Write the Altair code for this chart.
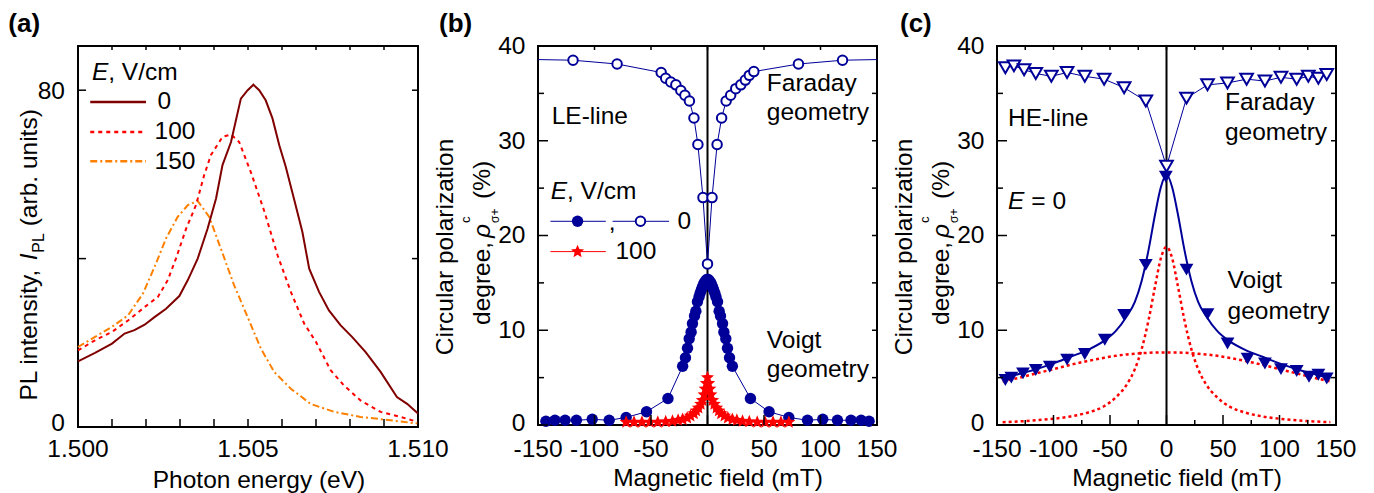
import altair as alt
import pandas as pd

FONT = "Liberation Sans"
FS = 24.5
NAVY = "#000099"
DARKRED = "#800000"
RED = "#ff0000"
ORANGE = "#ff8000"
STAR = ("M0,-1L0.2645,-0.364L0.951,-0.309L0.428,0.139L0.588,0.809L0,0.45L-0.588,0.809"
        "L-0.428,0.139L-0.951,-0.309L-0.2645,-0.364Z")

# ---------------- panel (a): PL spectra ----------------
a_x0 = [1.5000, 1.5005, 1.5010, 1.50137, 1.50166, 1.50196, 1.50225, 1.50259, 1.50298, 1.50323,
        1.50352, 1.50381, 1.50406, 1.50425, 1.50450, 1.50479, 1.50499, 1.50516, 1.50533, 1.50552,
        1.50572, 1.50592, 1.50611, 1.50635, 1.50660, 1.50680, 1.50709, 1.50738, 1.50772, 1.50806,
        1.50846, 1.50890, 1.50938, 1.50968, 1.51000]
a_y0 = [15.6, 17.6, 19.8, 22.2, 23.0, 24.3, 26.1, 28.1, 31.1, 34.9,
        40.0, 47.1, 54.3, 62.2, 67.7, 78.0, 80.0, 81.3, 80.0, 77.6,
        73.3, 66.9, 61.8, 54.3, 46.3, 37.6, 32.1, 27.7, 24.2, 21.4,
        17.8, 13.1, 7.1, 5.5, 3.2]
a_x100 = [1.5000, 1.5005, 1.5010, 1.50147, 1.50196, 1.50235, 1.50264, 1.50288, 1.50318, 1.50347,
          1.50371, 1.50391, 1.50425, 1.50450, 1.50474, 1.50508, 1.50547, 1.50587, 1.50626, 1.50665,
          1.50700, 1.50743, 1.50782, 1.50831, 1.50890, 1.50948, 1.51000]
a_y100 = [18.2, 20.6, 22.6, 25.3, 28.5, 30.9, 34.9, 40.0, 47.1, 52.7,
          59.8, 64.6, 68.9, 69.5, 67.7, 60.6, 51.5, 40.8, 32.1, 24.6,
          20.2, 13.5, 9.9, 6.3, 3.6, 2.4, 1.2]
a_x150 = [1.5000, 1.5005, 1.5010, 1.50147, 1.50191, 1.50225, 1.50259, 1.50293, 1.50323, 1.50352,
          1.50386, 1.50420, 1.50459, 1.50499, 1.50538, 1.50577, 1.50626, 1.50684, 1.50753, 1.50831,
          1.50919, 1.51000]
a_y150 = [19.0, 21.4, 23.8, 26.5, 31.7, 38.0, 44.8, 49.9, 52.7, 53.7,
          49.9, 42.4, 33.7, 26.1, 18.6, 13.1, 9.1, 5.5, 3.6, 2.4,
          1.6, 0.8]
a_xtick_vals = [1.500, 1.501, 1.502, 1.503, 1.504, 1.505, 1.506, 1.507, 1.508, 1.509, 1.510]
a_xlabel_vals = [1.500, 1.505, 1.510]
a_xlabel_text = ["1.500", "1.505", "1.510"]
a_ytick_vals = [0, 40, 80]
a_ylabel_vals = [80]
a_ylabel_text = ["80"]

# ---------------- panel (b): LE-line ----------------
b_far_B = [-165, -119, -80, -41, -37, -32.5, -28, -23.6, -20, -16, -12, -8.5, -4,
           0, 4, 8.5, 12.5, 16.5, 20.5, 25, 29.5, 33.5, 37, 41, 80.5, 119.5, 165]
b_far_v = [38.6, 38.5, 38.1, 37.2, 36.6, 36.2, 35.9, 35.3, 34.8, 34.2, 32.4, 29.6, 24.0,
           17.0, 24.0, 29.6, 32.4, 34.2, 34.8, 35.5, 35.9, 36.4, 36.9, 37.3, 38.1, 38.5, 38.6]
b_voi_B = [-143, -135, -126, -116, -102, -87, -72, -54, -35, -22,
           -19.5, -17.7, -16.2, -14.5, -13.3, -11.5, -10.3, -8.9, -7.5, -6.5,
           -5.3, -4.4, -3.3, -2.4, -1.2, 0, 1.2, 2.4, 3.3, 4.4, 5.3,
           6.5, 7.5, 8.9, 10.3, 11.5, 13.3, 14.5, 16.2, 17.7, 19.5,
           22, 38, 54.5, 72, 88.5, 102, 115, 127, 136, 143]
b_voi_v = [0.4, 0.5, 0.5, 0.5, 0.6, 0.5, 0.8, 1.4, 2.8, 6.2,
           7.1, 8.1, 9.1, 9.8, 10.7, 11.5, 12.0, 13.0, 13.5, 13.9,
           14.3, 14.6, 14.9, 15.1, 15.3, 15.4, 15.3, 15.1, 14.9, 14.6, 14.3,
           13.9, 13.5, 13.0, 12.0, 11.5, 10.7, 9.8, 9.1, 8.1, 7.1,
           6.2, 2.8, 1.4, 0.8, 0.5, 0.6, 0.5, 0.5, 0.5, 0.4]
b_e100_B = [-72, -65, -58, -51, -44, -37, -31, -26, -22, -18, -15, -12, -10, -8, -6, -4.5, -3, -2, -1,
            0, 1, 2, 3, 4.5, 6, 8, 10, 12, 15, 18, 22, 26, 31, 37, 44, 51, 58, 65, 72]
b_e100_v = [0.3, 0.3, 0.3, 0.3, 0.3, 0.35, 0.4, 0.5, 0.6, 0.75, 0.95, 1.2, 1.5, 1.8, 2.2, 2.6, 3.2, 3.8, 4.4,
            5.0, 4.4, 3.8, 3.2, 2.6, 2.2, 1.8, 1.5, 1.2, 0.95, 0.75, 0.6, 0.5, 0.4, 0.35, 0.3, 0.3, 0.3, 0.3, 0.3]

# ---------------- panel (c): HE-line ----------------
c_far_B = [-142.6, -135, -126, -115.7, -101.9, -88, -72.3, -55.2, -37.5, -18.3, 0,
           17.7, 36.3, 54, 70.9, 87.1, 101.3, 115.2, 125.5, 134.4, 141.8]
c_far_v = [37.7, 37.9, 37.5, 37.1, 36.8, 37.2, 36.8, 36.5, 35.6, 34.2, 27.3,
           34.5, 35.9, 36.1, 36.5, 36.3, 36.7, 36.5, 36.8, 36.6, 37.0]
c_voi_B = [-142.6, -137.3, -127, -115.7, -103.3, -88, -72.3, -54.6, -37.5, -18.3, -0.6,
           17.7, 36.3, 54, 71.7, 87.1, 101.3, 115.2, 126.1, 134.4, 141.8]
c_voi_v = [4.75, 5.0, 5.45, 5.8, 6.15, 6.9, 7.5, 9.0, 11.6, 16.9, 26.2,
           16.4, 11.7, 8.6, 7.0, 6.5, 5.9, 5.7, 5.1, 5.3, 4.9]
c_fit_B = [-145, -130, -115, -100, -85, -70, -55, -45, -35, -28, -22, -16, -10, -5, 0,
           5, 10, 16, 22, 28, 35, 45, 55, 70, 85, 100, 115, 130, 145]
c_fit_v = [4.9, 5.4, 5.9, 6.5, 7.2, 7.9, 8.9, 9.9, 11.5, 13.0, 15.2, 18.4, 22.3, 25.1, 26.4,
           25.1, 22.3, 18.4, 15.2, 13.0, 11.5, 9.9, 8.9, 7.9, 7.2, 6.5, 5.9, 5.4, 4.9]
c_narrow_v = [0.3, 0.38, 0.5, 0.66, 0.9, 1.3, 2.0, 2.9, 4.3, 5.9, 8.0, 11.0, 14.7, 17.6, 18.8,
              17.6, 14.7, 11.0, 8.0, 5.9, 4.3, 2.9, 2.0, 1.3, 0.9, 0.66, 0.5, 0.38, 0.3]
c_broad_v = [4.6, 5.0, 5.45, 5.9, 6.35, 6.75, 7.1, 7.3, 7.45, 7.52, 7.58, 7.62, 7.65, 7.66, 7.66,
             7.66, 7.65, 7.62, 7.58, 7.52, 7.45, 7.3, 7.1, 6.75, 6.35, 5.9, 5.45, 5.0, 4.6]

bc_xmajor_vals = [-150, -100, -50, 0, 50, 100, 150]
bc_xlabel_text = ["-150", "-100", "-50", "0", "50", "100", "150"]
c_xminor_vals = [-125, -75, -25, 25, 75, 125]
bc_ymajor_vals = [0, 10, 20, 30, 40]
bc_ylabel_vals = [10, 20, 30, 40]
bc_ylabel_text = ["10", "20", "30", "40"]
bc_yminor_vals = [5, 15, 25, 35]
bc_yall_vals = [0, 5, 10, 15, 20, 25, 30, 35, 40]
zero_label_val = [0]
zero_label_text = ["0"]

W_A, H_A = 340, 381
W_B, H_B = 339, 379
W_C, H_C = 339, 379

xs_a = alt.Scale(domain=[1.500, 1.510], nice=False, zero=False)
ys_a = alt.Scale(domain=[0, 90.5], nice=False, zero=False)
xs_b = alt.Scale(domain=[-150, 150], nice=False, zero=False)
ys_b = alt.Scale(domain=[0, 40], nice=False, zero=False)


def df2(x, y):
    return pd.DataFrame({"x": x, "y": y})


def xy(xs, ys):
    return dict(x=alt.X("x:Q", scale=xs, axis=None), y=alt.Y("y:Q", scale=ys, axis=None))


def dtext(x, y, s, xs, ys, size=FS, style="normal", align="left"):
    return alt.Chart(pd.DataFrame({"x": [x], "y": [y], "t": [s]})).mark_text(
        font=FONT, fontSize=size, fontStyle=style, align=align, baseline="alphabetic", color="black"
    ).encode(x=alt.X("x:Q", scale=xs, axis=None), y=alt.Y("y:Q", scale=ys, axis=None), text="t:N")


def ptext(px, py, s, size=FS, style="normal", weight="normal", angle=0, align="left"):
    return alt.Chart(pd.DataFrame({"t": [s]})).mark_text(
        font=FONT, fontSize=size, fontStyle=style, fontWeight=weight, angle=angle, align=align,
        baseline="alphabetic", color="black"
    ).encode(x=alt.value(px), y=alt.value(py), text="t:N")


def xlabels(vals, texts, xs, H, off):
    return alt.Chart(pd.DataFrame({"v": vals, "t": texts})).mark_text(
        font=FONT, fontSize=FS, align="center", baseline="alphabetic", color="black"
    ).encode(x=alt.X("v:Q", scale=xs, axis=None), y=alt.value(H + off), text="t:N")


def ylabels(vals, texts, ys, off, dy=8.3):
    return alt.Chart(pd.DataFrame({"v": vals, "t": texts})).mark_text(
        font=FONT, fontSize=FS, align="right", baseline="alphabetic", color="black", dy=dy
    ).encode(y=alt.Y("v:Q", scale=ys, axis=None), x=alt.value(off), text="t:N")


def xticks(vals, xs, H, length, top=False):
    y0, y1 = (0, length) if top else (H, H - length)
    return alt.Chart(pd.DataFrame({"v": vals})).mark_rule(color="black", strokeWidth=1.5).encode(
        x=alt.X("v:Q", scale=xs, axis=None), y=alt.value(y0), y2=alt.value(y1))


def yticks(vals, ys, W, length, right=False):
    x0, x1 = (W, W - length) if right else (0, length)
    return alt.Chart(pd.DataFrame({"v": vals})).mark_rule(color="black", strokeWidth=1.5).encode(
        y=alt.Y("v:Q", scale=ys, axis=None), x=alt.value(x0), x2=alt.value(x1))


def dseg(x1, x2, y, xs, ys, color, width, dash=None):
    m = dict(color=color, strokeWidth=width)
    if dash:
        m["strokeDash"] = dash
    return alt.Chart(pd.DataFrame({"x": [x1], "x2": [x2], "y": [y]})).mark_rule(**m).encode(
        x=alt.X("x:Q", scale=xs, axis=None), x2=alt.X2("x2"), y=alt.Y("y:Q", scale=ys, axis=None))


def pt(x, y, xs, ys, **mk):
    return alt.Chart(df2([x], [y])).mark_point(**mk).encode(**xy(xs, ys))


# ---------- panel (a) ----------
a_layers = [
    alt.Chart(df2(a_x150, a_y150)).mark_line(color=ORANGE, strokeWidth=2, strokeDash=[7, 3, 2, 3]).encode(
        **xy(xs_a, ys_a)),
    alt.Chart(df2(a_x100, a_y100)).mark_line(color=RED, strokeWidth=2, strokeDash=[4, 4]).encode(**xy(xs_a, ys_a)),
    alt.Chart(df2(a_x0, a_y0)).mark_line(color=DARKRED, strokeWidth=2).encode(**xy(xs_a, ys_a)),
    xticks(a_xtick_vals, xs_a, H_A, 8),
    xticks(a_xtick_vals, xs_a, H_A, 4, top=True),
    yticks(a_ytick_vals, ys_a, W_A, 8),
    yticks(a_ytick_vals, ys_a, W_A, 6, right=True),
    xlabels(a_xlabel_vals, a_xlabel_text, xs_a, H_A, 29.5),
    ylabels(a_ylabel_vals, a_ylabel_text, ys_a, -13),
    ylabels(zero_label_val, zero_label_text, ys_a, -13, dy=4),
    # legend
    dtext(1.50041, 82.4, "E", xs_a, ys_a, style="italic"),
    dtext(1.50089, 82.4, ", V/cm", xs_a, ys_a),
    dseg(1.50036, 1.50200, 77.2, xs_a, ys_a, DARKRED, 2.5),
    dseg(1.50036, 1.50200, 70.1, xs_a, ys_a, RED, 2.5, [4, 4]),
    dseg(1.50036, 1.50200, 63.1, xs_a, ys_a, ORANGE, 2.5, [7, 3, 2, 3]),
    dtext(1.50234, 75.6, "0", xs_a, ys_a),
    dtext(1.50225, 68.5, "100", xs_a, ys_a),
    dtext(1.50225, 61.4, "150", xs_a, ys_a),
    # axis titles
    ptext(-40.7, 354.5, "PL intensity,", angle=270),
    ptext(-40.7, 214.2, "I", style="italic", angle=270),
    ptext(-33.7, 206.7, "PL", size=16, angle=270),
    ptext(-40.7, 180.3, "(arb. units)", angle=270),
    ptext(181, H_A + 61, "Photon energy (eV)", align="center"),
    ptext(-69.7, -13.6, "(a)", size=26, weight="bold"),
    # invisible anchor fixing the top-left corner of the page
    alt.Chart(pd.DataFrame({"d": [0]})).mark_rule(strokeOpacity=0, color="white").encode(
        x=alt.value(-76.7), x2=alt.value(-70), y=alt.value(-44.3), y2=alt.value(-40)),
]
panel_a = alt.layer(*a_layers).properties(width=W_A, height=H_A)


def bc_common(H, W, xmin, label, lx):
    layers = [
        ptext(-85, 201, "Circular polarization", angle=270, align="center"),
        ptext(-48, 279, "degree,", angle=270),
        ptext(-48, 192, "ρ", style="italic", angle=270),
        ptext(-68, 177, "c", size=13, angle=270),
        ptext(-39, 177, "σ+", size=12, angle=270),
        ptext(-48, 153, "(%)", angle=270),
        ptext(180, H + 61, "Magnetic field (mT)", align="center"),
        ptext(lx, -14, label, size=26, weight="bold"),
        xticks(bc_xmajor_vals, xs_b, H, 10),
        xticks(bc_xmajor_vals + xmin, xs_b, H, 4, top=True),
        yticks(bc_ymajor_vals, ys_b, W, 10),
        yticks(bc_yminor_vals, ys_b, W, 6),
        yticks(bc_yall_vals, ys_b, W, 5, right=True),
        xlabels(bc_xmajor_vals, bc_xlabel_text, xs_b, H, 31.5),
        ylabels(bc_ylabel_vals, bc_ylabel_text, ys_b, -12.5, dy=7.8),
        ylabels(zero_label_val, zero_label_text, ys_b, -12.5, dy=5.5),
    ]
    if xmin:
        layers.append(xticks(xmin, xs_b, H, 5))
    return layers


def zero_line(H):
    return alt.Chart(pd.DataFrame({"v": [0]})).mark_rule(color="black", strokeWidth=2).encode(
        x=alt.X("v:Q", scale=xs_b, axis=None), y=alt.value(0), y2=alt.value(H))


# ---------- panel (b) ----------
b_layers = [
    zero_line(H_B),
    alt.Chart(df2(b_far_B, b_far_v)).mark_line(color=NAVY, strokeWidth=1, clip=True).encode(**xy(xs_b, ys_b)),
    alt.Chart(df2(b_voi_B, b_voi_v)).mark_line(color=NAVY, strokeWidth=1).encode(**xy(xs_b, ys_b)),
    alt.Chart(df2(b_e100_B, b_e100_v)).mark_line(color=RED, strokeWidth=1).encode(**xy(xs_b, ys_b)),
    alt.Chart(df2(b_far_B, b_far_v)).mark_point(shape="circle", filled=True, fill="white", stroke=NAVY,
                                                strokeWidth=2, size=90, opacity=1, clip=True).encode(**xy(xs_b, ys_b)),
    alt.Chart(df2(b_voi_B, b_voi_v)).mark_point(shape="circle", filled=True, color=NAVY, size=130,
                                                opacity=1).encode(**xy(xs_b, ys_b)),
    alt.Chart(df2(b_e100_B, b_e100_v)).mark_point(shape=STAR, filled=True, color=RED, size=190,
                                                  opacity=1).encode(**xy(xs_b, ys_b)),
    # annotations
    dtext(-137.9, 31.8, "LE-line", xs_b, ys_b),
    dtext(52.5, 35.2, "Faraday", xs_b, ys_b),
    dtext(52.5, 32.2, "geometry", xs_b, ys_b),
    dtext(52.5, 8.1, "Voigt", xs_b, ys_b),
    dtext(52.5, 5.1, "geometry", xs_b, ys_b),
    # legend
    dtext(-138.8, 23.9, "E", xs_b, ys_b, style="italic"),
    dtext(-124.4, 23.9, ", V/cm", xs_b, ys_b),
    dseg(-139, -90, 21.5, xs_b, ys_b, NAVY, 1),
    pt(-115, 21.5, xs_b, ys_b, shape="circle", filled=True, color=NAVY, size=130, opacity=1),
    dtext(-87.5, 20.6, ",", xs_b, ys_b),
    dseg(-84, -34, 21.5, xs_b, ys_b, NAVY, 1),
    pt(-59.3, 21.5, xs_b, ys_b, shape="circle", filled=True, fill="white", stroke=NAVY, strokeWidth=2,
       size=90, opacity=1),
    dtext(-26.5, 20.7, "0", xs_b, ys_b),
    dseg(-139, -90, 18.3, xs_b, ys_b, RED, 1),
    pt(-115, 18.3, xs_b, ys_b, shape=STAR, filled=True, color=RED, size=190, opacity=1),
    dtext(-81.5, 17.5, "100", xs_b, ys_b),
] + bc_common(H_B, W_B, [], "(b)", -99)
panel_b = alt.layer(*b_layers).properties(width=W_B, height=H_B)

# ---------- panel (c) ----------
c_layers = [
    zero_line(H_C),
    alt.Chart(df2(c_far_B, c_far_v)).mark_line(color=NAVY, strokeWidth=1).encode(**xy(xs_b, ys_b)),
    alt.Chart(df2(c_fit_B, c_narrow_v)).mark_line(color=RED, strokeWidth=2.5, strokeDash=[3, 3],
                                                  interpolate="monotone").encode(**xy(xs_b, ys_b)),
    alt.Chart(df2(c_fit_B, c_broad_v)).mark_line(color=RED, strokeWidth=2.5, strokeDash=[3, 3],
                                                 interpolate="monotone").encode(**xy(xs_b, ys_b)),
    alt.Chart(df2(c_fit_B, c_fit_v)).mark_line(color=NAVY, strokeWidth=2,
                                               interpolate="monotone").encode(**xy(xs_b, ys_b)),
    alt.Chart(df2(c_far_B, c_far_v)).mark_point(shape="triangle-down", filled=True, fill="white", stroke=NAVY,
                                                strokeWidth=2, size=160, opacity=1).encode(**xy(xs_b, ys_b)),
    alt.Chart(df2(c_voi_B, c_voi_v)).mark_point(shape="triangle-down", filled=True, color=NAVY, size=190,
                                                opacity=1).encode(**xy(xs_b, ys_b)),
    dtext(-140.2, 31.6, "HE-line", xs_b, ys_b),
    dtext(-140.2, 22.8, "E", xs_b, ys_b, style="italic"),
    dtext(-119.6, 22.8, "= 0", xs_b, ys_b),
    dtext(51.7, 33.2, "Faraday", xs_b, ys_b),
    dtext(51.7, 30.1, "geometry", xs_b, ys_b),
    dtext(54, 14.5, "Voigt", xs_b, ys_b),
    dtext(54, 11.2, "geometry", xs_b, ys_b),
] + bc_common(H_C, W_C, c_xminor_vals, "(c)", -97)
panel_c = alt.layer(*c_layers).properties(width=W_C, height=H_C)

chart = alt.hconcat(panel_a, panel_b, panel_c, spacing=120, bounds="flush").properties(
    padding={"left": 0, "top": 0, "right": 4, "bottom": 4}
).configure(font=FONT).configure_view(stroke="black", strokeWidth=2)

chart.save("out.html", embed_options={"renderer": "svg", "actions": False})
